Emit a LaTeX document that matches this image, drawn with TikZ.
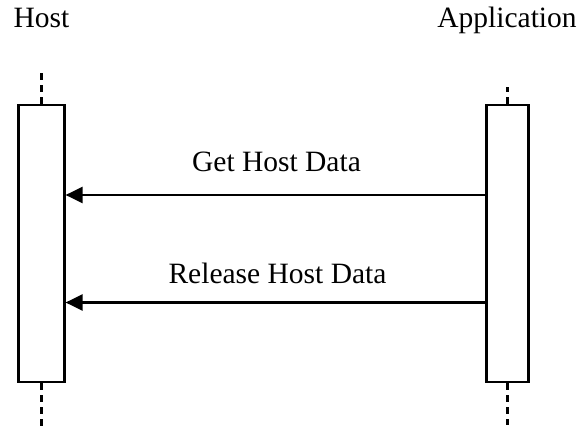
\documentclass[tikz,border=0pt]{standalone}
\usepackage{fontspec}
\setmainfont{Liberation Serif}
\usetikzlibrary{arrows.meta}

\tikzset{every picture/.style={line width=2.2pt}}
\tikzset{
	actbox/.style={draw, rectangle, inner sep=0pt, minimum height=277pt},
	lifeline/.style={dashed, dash pattern=on 7pt off 5pt},
	msg/.style={line width=2.5pt, -{Triangle[length=17pt,width=16pt]}},
	lbl/.style={anchor=base, font=\fontsize{29.5}{34}\selectfont}}

\begin{document}
\begin{tikzpicture}[x=1pt,y=1pt,yscale=-1,xscale=1]
	\useasboundingbox (0,0) rectangle (577,427);

	% Activation boxes
	\node [actbox, minimum width=46pt] (hostbox) at (41.5,243.5) {};
	\node [actbox, minimum width=42pt] (appbox) at (507.4,243.5) {};

	% Lifeline ends
	\coordinate (hosttop) at (41.5,71);
	\coordinate (hostbot) at (41.5,426);
	\coordinate (apptop) at (507.4,87);
	\coordinate (appbot) at (507.4,425);

	% Lifelines
	\draw [lifeline] (hostbox.north) -- (hosttop);
	\draw [lifeline] (hostbox.south) -- (hostbot);
	\draw [lifeline] (appbox.north) -- (apptop);
	\draw [lifeline] (appbox.south) -- (appbot);

	% Text Node
	\node [lbl] (hostlbl) at (41.5,28) {Host};
	% Text Node
	\node [lbl] (applbl) at (507,28) {Application};

	% Messages
	\coordinate (getmsg) at (0,195);
	\coordinate (relmsg) at (0,302.5);
	\draw [msg] (appbox.west |- getmsg) -- (hostbox.east |- getmsg);
	\draw [msg] (appbox.west |- relmsg) -- (hostbox.east |- relmsg);

	% Text Node
	\node [lbl] (getlbl) at (276.5,172) {Get Host Data};
	% Text Node
	\node [lbl] (rellbl) at (277.5,283) {Release Host Data};

\end{tikzpicture}
\end{document}
